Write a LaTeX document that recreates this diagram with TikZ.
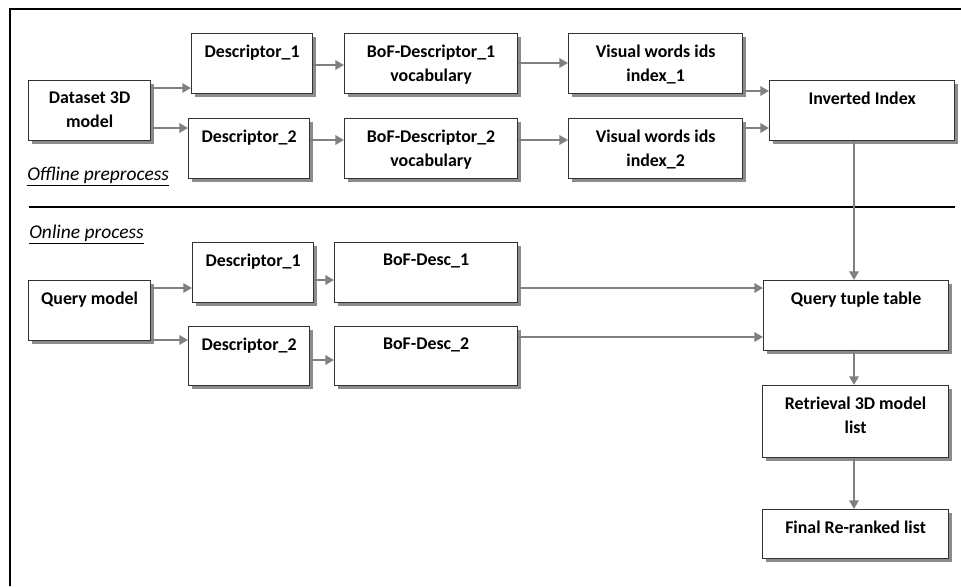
\documentclass[tikz,border=0pt]{standalone}
\usepackage{fontspec}
\setmainfont{Carlito}
\usetikzlibrary{arrows.meta,shadows}
\tikzset{
  box/.style={draw=black!80, line width=0.9pt, fill=white, inner sep=0pt, anchor=north west,
    drop shadow={shadow xshift=2.2pt, shadow yshift=-2.2pt, fill=black!45, opacity=1}},
  boxtext/.style={anchor=north, inner sep=0pt, yshift=-8.4pt, align=center,
    font=\bfseries\fontsize{13.4}{18}\selectfont},
  arr/.style={draw=black!50, line width=1.9pt, -{Triangle[length=6.5pt,width=7pt]}},
  head/.style={anchor=base west, inner sep=0pt, font=\itshape\fontsize{14.6}{16}\selectfont},
}
\newcommand\bx[6]{\node[box, minimum width=#4*0.75pt, minimum height=#5*0.75pt,
  label={[boxtext]north:#6}] (#1) at (#2,#3) {};}
\begin{document}
\begin{tikzpicture}[x=0.75pt,y=-0.75pt]
\useasboundingbox (0,0) rectangle (961,586);
% frame
\draw[line width=1.5pt] (10,586) -- (10,9) -- (961,9);
\draw[line width=1.4pt] (29,207) -- (955,207);
\node[head] (off) at (27,180) {\underline{Offline preprocess}};
\node[head] (on) at (29,238) {\underline{Online process}};
% offline
\bx{ds}{28}{80}{122}{60}{Dataset 3D\\model}
\bx{da}{191}{33}{121}{60}{Descriptor\_1}
\bx{db}{188}{118}{121}{60}{Descriptor\_2}
\bx{ba}{344}{33}{173}{60}{BoF-Descriptor\_1\\vocabulary}
\bx{bb}{344}{118}{173}{60}{BoF-Descriptor\_2\\vocabulary}
\bx{va}{568}{33}{174}{60}{Visual words ids\\index\_1}
\bx{vb}{568}{118}{174}{60}{Visual words ids\\index\_2}
\bx{inv}{769}{80}{185}{60}{Inverted Index}
% online
\bx{q}{28}{280}{122}{60}{Query model}
\bx{qa}{192}{242}{121}{60}{Descriptor\_1}
\bx{qb}{188}{326}{121}{59}{Descriptor\_2}
\bx{qba}{334}{242}{183}{60}{BoF-Desc\_1}
\bx{qbb}{334}{326}{183}{59}{BoF-Desc\_2}
\bx{qt}{763}{280}{185}{70}{Query tuple table}
\bx{ret}{762}{385}{186}{72}{Retrieval 3D model\\list}
\bx{fin}{762}{509}{186}{49}{Final Re-ranked list}
% arrows offline
\draw[arr] (ds.east |- 0,88) -- (da.west |- 0,88);
\draw[arr] (ds.east |- 0,128) -- (db.west |- 0,128);
\draw[arr] (da.east |- 0,65) -- (ba.west |- 0,65);
\draw[arr] (db.east |- 0,140) -- (bb.west |- 0,140);
\draw[arr] (ba.east |- 0,63) -- (va.west |- 0,63);
\draw[arr] (bb.east |- 0,140) -- (vb.west |- 0,140);
\draw[arr] (va.east |- 0,91) -- (inv.west |- 0,91);
\draw[arr] (vb.east |- 0,128) -- (inv.west |- 0,128);
\draw[arr] (inv.south -| 854,0) -- (qt.north -| 854,0);
% arrows online
\draw[arr] (q.east |- 0,288) -- (qa.west |- 0,288);
\draw[arr] (q.east |- 0,340) -- (qb.west |- 0,340);
\draw[arr] (qa.east |- 0,280) -- (qba.west |- 0,280);
\draw[arr] (qb.east |- 0,360) -- (qbb.west |- 0,360);
\draw[arr] (qba.east |- 0,288) -- (qt.west |- 0,288);
\draw[arr] (qbb.east |- 0,337) -- (qt.west |- 0,337);
\draw[arr] (qt.south -| 854,0) -- (ret.north -| 854,0);
\draw[arr] (ret.south -| 854,0) -- (fin.north -| 854,0);
\end{tikzpicture}
\end{document}
